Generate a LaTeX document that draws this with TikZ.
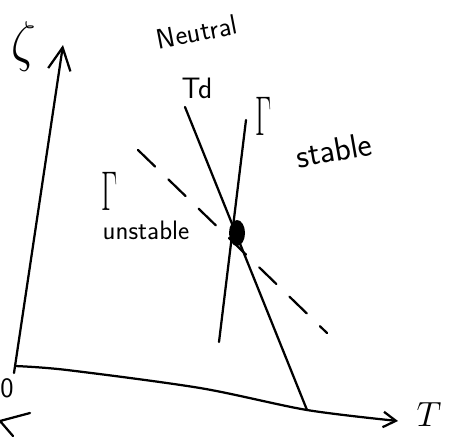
\documentclass[tikz,border=0pt]{standalone}
\usepackage{amsmath,amssymb}
\usepackage{tikz}
\usetikzlibrary{arrows.meta, positioning, calc}

\tikzset{
  pen/.style={line width=1.6pt, line cap=round, line join=round},
  hand/.style={font=\sffamily, inner sep=0pt},
}
\newcommand{\bigsym}[3]{\scalebox{#1}[#2]{\Huge$#3$}}

\begin{document}
\begin{tikzpicture}[x=0.025cm, y=-0.025cm]
  \useasboundingbox (0,0) rectangle (453,436);
  % axes
  \coordinate (origin) at (15,366);
  \coordinate (ztop) at (63,45);
  \coordinate (tend) at (398,421);
  \draw[pen, -{Straight Barb[length=16pt, width=16pt, line width=1.6pt]}] (14,373) -- (ztop);
  \draw[pen, -{Straight Barb[length=9pt, width=11pt, line width=1.6pt]}]
    plot[smooth, tension=0.5] coordinates {(origin) (67,370) (200,388) (307,410) (tend)};
  \draw[pen] (30,413) -- (0,421) -- (13,436);
  \node[hand] (zlab) at (24,47) {\bigsym{1.4}{1.6}{\zeta}};
  \node[hand] (zero) at (7,388) {\fontsize{20}{24}\selectfont 0};
  \node[hand] (tlab) at (429,415) {\bigsym{1.0}{1.0}{T}};
  % the three lines through the point
  \coordinate (pt) at (237,233);
  \coordinate (tdtop) at (185,107);
  \coordinate (tdfoot) at (307,410);
  \coordinate (gtop) at (246,120);
  \coordinate (gfoot) at (219,342);
  \coordinate (dtop) at (138,150);
  \coordinate (dfoot) at (327,333);
  \draw[pen] (tdtop) -- (tdfoot);
  \draw[pen] (gtop) -- (gfoot);
  \draw[pen, dash pattern=on 17pt off 13pt] (dtop) -- (dfoot);
  \fill (pt) ellipse [x radius=8, y radius=13];
  % labels
  \node[hand, rotate=11] (neutral) at (197,32) {\fontsize{20}{24}\selectfont Neutral};
  \node[hand] (td) at (197,88) {\fontsize{21}{25}\selectfont Td};
  \node[hand] (gstab) at (264,116) {\bigsym{0.8}{1.6}{\Gamma}};
  \node[hand, rotate=10] (stable) at (334,150) {\fontsize{24}{28}\selectfont stable};
  \node[hand] (gunst) at (110,191) {\bigsym{0.8}{1.6}{\Gamma}};
  \node[hand] (unstable) at (146,230) {\fontsize{19}{23}\selectfont unstable};
\end{tikzpicture}
\end{document}
